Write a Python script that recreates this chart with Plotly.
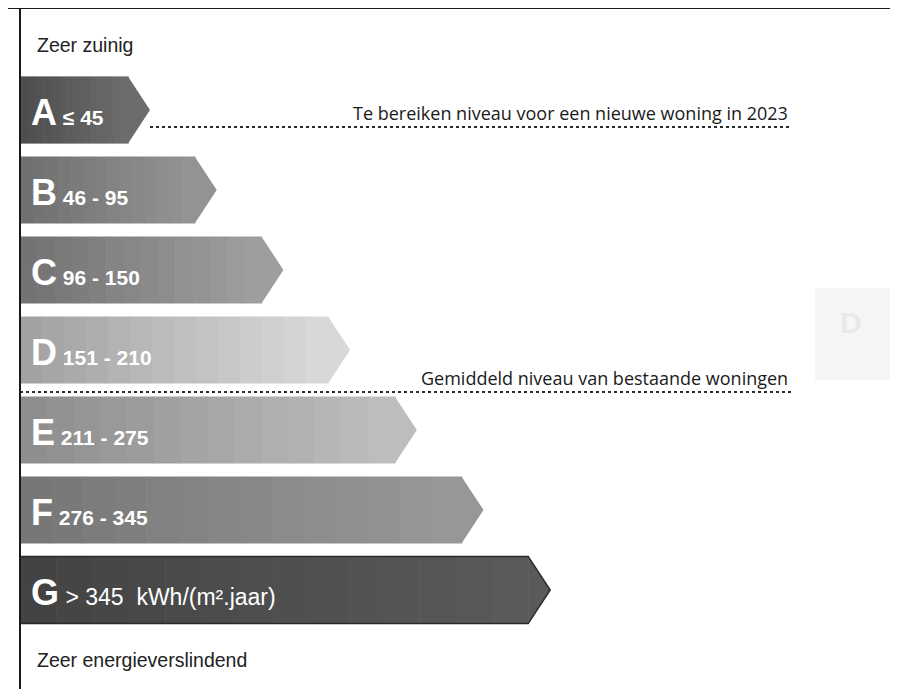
import plotly.graph_objects as go

# ---------------- data ----------------
classes = ["A", "B", "C", "D", "E", "F", "G"]
ranges = ["≤ 45", "46 - 95", "96 - 150", "151 - 210", "211 - 275", "276 - 345", "> 345  kWh/(m².jaar)"]
colors_left = ["#4e4e4e", "#707070", "#737373", "#a2a2a2", "#8e8e8e", "#777777", "#434343"]
colors_right = ["#6c6c6c", "#939393", "#9e9e9e", "#d8d8d8", "#bdbdbd", "#979797", "#5a5a5a"]
top_label = "Zeer zuinig"
bottom_label = "Zeer energieverslindend"
ref_texts = ["Te bereiken niveau voor een nieuwe woning in 2023", "Gemiddeld niveau van bestaande woningen"]
ref_after_class = ["A", "D"]   # reference line placed under this class

# ---------------- layout helpers ----------------
OFF = 8                       # page body margin
W, H = 898 - OFF, 689 - OFF   # figure size
X0 = 20                       # left edge of arrows (x axis in screen px units)
TIP0, STEP = 150, 66.7
TIP_DEPTH = 22
HALF = 0.42                   # half arrow height in class units
N_SLICES = 14
YC0, YSTEP = 110, 80          # screen y of class A centre, px per class

def py(screen_y):
    return (screen_y - YC0) / YSTEP

def hex2rgb(h):
    h = h.lstrip("#")
    return tuple(int(h[i:i + 2], 16) for i in (0, 2, 4))

def mix(c1, c2, t):
    a, b = hex2rgb(c1), hex2rgb(c2)
    return "rgb(%d,%d,%d)" % tuple(round(a[k] + (b[k] - a[k]) * t) for k in range(3))

fig = go.Figure()
shapes = []
annotations = []

for i, cls in enumerate(classes):
    tip = TIP0 + STEP * i
    body_end = tip - TIP_DEPTH
    y0, y1 = i - HALF, i + HALF
    w = (body_end - X0) / N_SLICES
    for s in range(N_SLICES):
        shapes.append(dict(type="rect", xref="x", yref="y",
                           x0=X0 + s * w, x1=X0 + (s + 1) * w + 0.6, y0=y0, y1=y1,
                           fillcolor=mix(colors_left[i], colors_right[i], s / (N_SLICES - 1)),
                           line=dict(width=0), layer="below"))
    shapes.append(dict(type="path", xref="x", yref="y",
                       path=f"M {body_end} {y0} L {tip} {i} L {body_end} {y1} Z",
                       fillcolor=colors_right[i], line=dict(width=0), layer="below"))
    if cls == "G":
        shapes.append(dict(type="path", xref="x", yref="y",
                           path=f"M {X0} {y0} L {body_end} {y0} L {tip} {i} L {body_end} {y1} L {X0} {y1} Z",
                           fillcolor="rgba(0,0,0,0)", line=dict(width=1.5, color="#2a2a2a"), layer="below"))
        rng_html = f"<span style='font-size:23px'> {ranges[i]}</span>"
    else:
        rng_html = f"<b><span style='font-size:21px'> {ranges[i]}</span></b>"
    annotations.append(dict(
        x=X0 + 9, y=i, xref="x", yref="y", xanchor="left", yanchor="middle",
        text=f"<b><span style='font-size:36px'>{cls}</span></b>" + rng_html,
        showarrow=False, font=dict(family="Liberation Sans, Arial", color="white", size=21),
        yshift=-2))

# reference dotted lines
for k, (txt, after) in enumerate(zip(ref_texts, ref_after_class)):
    ci = classes.index(after)
    if k == 0:
        yy = py(127)
        xstart = TIP0 + STEP * ci
    else:
        yy = py(392)
        xstart = X0
    fig.add_trace(go.Scatter(x=[xstart, 792], y=[yy, yy], mode="lines",
                             line=dict(color="#2a2a2a", width=1.8, dash="dot"),
                             hoverinfo="skip", showlegend=False))
    annotations.append(dict(x=790, y=yy, xref="x", yref="y", xanchor="right", yanchor="bottom",
                            text=txt, showarrow=False, yshift=0,
                            font=dict(family="Open Sans", size=18, color="#1a1a1a")))

# top/bottom labels
annotations.append(dict(x=35, y=py(45), xref="x", yref="y", xanchor="left", yanchor="middle",
                        text=top_label, showarrow=False,
                        font=dict(family="Liberation Sans, Arial", size=19.5, color="#222222")))
annotations.append(dict(x=35, y=py(660), xref="x", yref="y", xanchor="left", yanchor="middle",
                        text=bottom_label, showarrow=False,
                        font=dict(family="Liberation Sans, Arial", size=19.5, color="#222222")))

# faint ghost label at right
shapes.append(dict(type="rect", xref="x", yref="y", x0=815, x1=898, y0=py(288), y1=py(380),
                   fillcolor="#f6f6f6", line=dict(width=0), layer="below"))
annotations.append(dict(x=838, y=py(322), xref="x", yref="y", xanchor="left", yanchor="middle",
                        text="<b>D</b>", showarrow=False,
                        font=dict(family="Liberation Sans, Arial", size=30, color="#e9e9e9")))

# frame
shapes.append(dict(type="line", xref="x", yref="y", x0=20, x1=20, y0=py(8), y1=py(689),
                   line=dict(color="#1a1a1a", width=2)))
shapes.append(dict(type="line", xref="x", yref="y", x0=8, x1=898, y0=py(8), y1=py(8),
                   line=dict(color="#1a1a1a", width=2)))

# invisible anchor trace so axes exist with classes
fig.add_trace(go.Scatter(x=[X0] * len(classes), y=list(range(len(classes))), mode="markers",
                         marker=dict(opacity=0), hoverinfo="skip", showlegend=False))

fig.update_layout(
    width=W, height=H, margin=dict(l=0, r=0, t=0, b=0),
    paper_bgcolor="white", plot_bgcolor="white",
    xaxis=dict(range=[OFF, OFF + W], visible=False, fixedrange=True),
    yaxis=dict(range=[py(OFF + H), py(OFF)], visible=False, fixedrange=True),
    shapes=shapes, annotations=annotations, showlegend=False,
)
fig.write_html("out.html")
